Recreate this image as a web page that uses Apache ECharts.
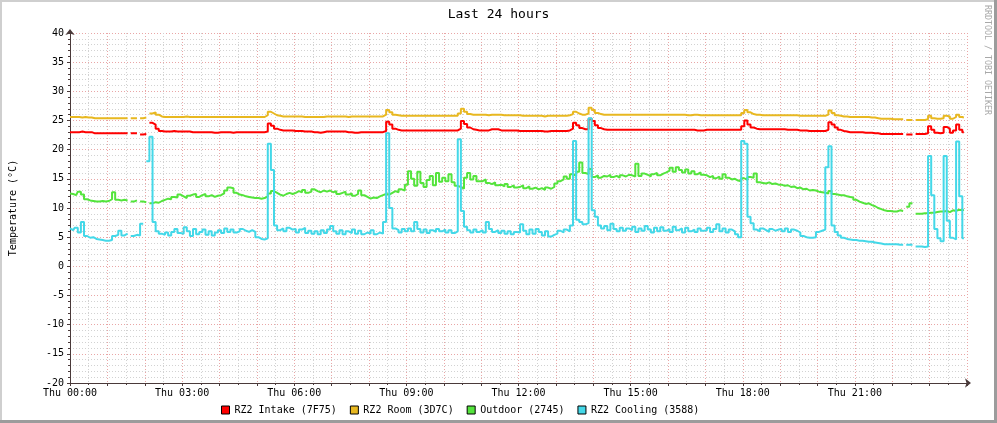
<!DOCTYPE html>
<html>
<head>
<meta charset="utf-8">
<script src="https://cdn.jsdelivr.net/npm/echarts@6/dist/echarts.min.js"></script>
<style>html,body{margin:0;padding:0;background:#fff;}#c{width:997px;height:423px;}</style>
</head>
<body>
<div id="c"></div>
<script>
// 5-minute samples, 12 per hour, Thu 00:00 .. 23:55
const seriesNames = ['RZ2 Intake (7F75)', 'RZ2 Room (3D7C)', 'Outdoor (2745)', 'RZ2 Cooling (3588)'];
const xLabels = ['Thu 00:00','Thu 03:00','Thu 06:00','Thu 09:00','Thu 12:00','Thu 15:00','Thu 18:00','Thu 21:00'];

const intake = [
23.0,23.0,23.0,23.0,23.1,23.0,23.0,23.0,22.8,22.8,22.8,22.8,
22.8,22.8,22.8,22.8,22.8,22.8,22.8,null,22.8,22.8,null,22.6,
22.7,null,24.6,24.3,23.6,23.2,23.1,23.1,23.1,23.2,23.1,23.1,
23.1,23.1,23.1,23.0,23.0,23.0,23.0,23.0,23.0,23.0,22.9,22.9,
23.0,23.0,23.0,23.0,22.9,23.0,23.0,23.0,23.0,23.0,23.0,23.0,
23.0,23.0,23.0,23.1,24.5,24.1,23.6,23.4,23.3,23.3,23.3,23.3,
23.2,23.2,23.2,23.1,23.1,23.1,23.0,23.0,22.9,23.0,23.1,23.1,
23.1,23.1,23.1,23.1,23.1,23.0,23.0,22.9,22.9,23.0,23.0,23.0,
23.0,23.0,23.0,23.0,23.0,23.2,24.8,24.3,23.6,23.4,23.3,23.3,
23.3,23.3,23.3,23.3,23.3,23.3,23.3,23.3,23.3,23.3,23.3,23.3,
23.3,23.3,23.3,23.3,23.3,23.6,24.9,24.4,23.8,23.5,23.4,23.3,
23.3,23.3,23.3,23.5,23.5,23.5,23.3,23.3,23.3,23.3,23.3,23.3,
23.2,23.2,23.2,23.2,23.2,23.2,23.2,23.2,23.1,23.1,23.2,23.2,
23.2,23.2,23.2,23.2,23.3,23.6,24.6,24.2,23.7,23.5,23.5,25.3,
24.9,24.2,23.7,23.5,23.4,23.4,23.4,23.4,23.4,23.4,23.4,23.4,
23.4,23.4,23.4,23.4,23.4,23.4,23.4,23.4,23.4,23.4,23.4,23.4,
23.4,23.4,23.4,23.4,23.4,23.4,23.4,23.4,23.4,23.3,23.3,23.3,
23.4,23.4,23.4,23.4,23.4,23.4,23.4,23.4,23.4,23.4,23.4,23.4,
24.0,25.0,24.3,23.8,23.6,23.5,23.5,23.5,23.5,23.5,23.5,23.5,
23.5,23.5,23.4,23.4,23.4,23.4,23.3,23.3,23.3,23.2,23.2,23.2,
23.2,23.2,23.2,23.4,24.7,24.3,23.8,23.4,23.2,23.1,23.0,23.0,
23.0,23.0,23.0,22.9,22.9,22.9,22.8,22.8,22.7,22.7,22.7,22.7,
22.7,22.7,22.7,22.7,null,22.6,22.6,null,22.7,22.7,22.7,22.8,
24.0,23.4,22.9,22.8,22.9,23.9,23.6,22.9,23.3,24.3,23.4,23.0
];

const room = [
25.6,25.6,25.6,25.6,25.5,25.6,25.5,25.5,25.4,25.4,25.4,25.4,
25.4,25.4,25.4,25.4,25.4,25.4,25.4,null,25.4,25.4,null,25.4,
25.5,null,26.2,26.4,26.0,25.7,25.6,25.6,25.6,25.6,25.6,25.6,
25.6,25.7,25.6,25.6,25.6,25.6,25.6,25.6,25.6,25.6,25.6,25.6,
25.6,25.6,25.6,25.6,25.6,25.6,25.6,25.6,25.6,25.6,25.6,25.6,
25.6,25.6,25.6,25.9,26.5,26.2,25.9,25.8,25.7,25.7,25.7,25.7,
25.7,25.7,25.7,25.6,25.6,25.6,25.6,25.6,25.6,25.6,25.7,25.7,
25.7,25.7,25.7,25.7,25.7,25.6,25.7,25.7,25.7,25.7,25.7,25.7,
25.7,25.7,25.7,25.7,25.7,26.0,26.8,26.4,26.0,25.9,25.8,25.8,
25.8,25.8,25.8,25.8,25.8,25.8,25.8,25.8,25.8,25.8,25.8,25.8,
25.8,25.8,25.8,25.8,25.8,26.2,27.0,26.5,26.1,26.0,26.0,26.0,
26.0,26.0,25.9,26.0,26.0,26.0,26.0,25.9,25.9,25.9,25.9,25.9,
25.9,25.8,25.8,25.8,25.8,25.8,25.8,25.8,25.7,25.8,25.8,25.8,
25.8,25.8,25.8,25.8,25.9,26.1,26.5,26.2,26.0,26.0,26.2,27.2,
26.8,26.3,26.1,26.0,26.0,26.0,26.0,26.0,26.0,26.0,26.0,26.0,
26.0,26.0,26.0,26.0,26.0,26.0,26.0,26.0,26.0,26.0,26.0,26.0,
26.0,26.0,26.0,26.0,26.0,26.0,25.9,25.9,26.0,26.0,25.9,25.9,
25.9,25.9,25.9,25.9,25.9,25.9,25.9,25.9,25.9,25.9,25.9,25.9,
26.3,26.8,26.4,26.1,26.0,26.0,25.9,25.9,25.9,25.9,25.9,25.9,
25.9,25.9,25.9,25.9,25.9,25.9,25.8,25.8,25.8,25.8,25.8,25.8,
25.8,25.8,25.8,26.0,26.7,26.3,25.9,25.8,25.7,25.7,25.6,25.6,
25.6,25.6,25.6,25.6,25.6,25.5,25.5,25.4,25.3,25.3,25.3,25.3,
25.2,25.2,25.2,25.2,null,25.1,25.1,null,25.1,25.1,25.1,25.2,
25.8,25.4,25.3,25.3,25.4,25.8,25.7,25.3,25.6,26.0,25.6,25.5
];

const outdoor = [
12.5,12.4,12.2,12.8,12.3,11.5,11.3,11.2,11.1,11.1,11.2,11.1,
11.2,11.5,12.7,11.4,11.3,11.4,11.3,null,11.1,11.3,null,11.1,
11.0,null,10.8,11.0,10.9,11.2,11.4,11.6,11.5,11.9,11.8,12.3,
12.0,11.7,12.1,12.3,12.4,11.9,12.2,12.4,12.0,12.2,11.9,12.1,
12.2,12.5,13.0,13.5,13.4,12.6,12.3,12.2,12.0,11.9,11.8,11.7,
11.7,11.6,11.7,12.0,12.5,12.9,12.6,12.3,12.1,12.4,12.6,12.4,
12.6,12.9,12.7,13.1,12.6,12.8,13.2,12.9,12.7,13.0,12.8,13.0,
12.7,12.9,12.4,12.6,12.8,12.3,12.5,12.1,12.4,13.0,12.2,11.9,
11.6,11.8,11.7,12.0,12.2,12.4,12.3,12.6,12.9,12.7,13.2,13.0,
14.0,16.3,15.0,13.8,16.2,14.3,13.6,14.8,15.5,13.9,16.0,14.5,
15.2,14.6,15.8,14.4,13.8,13.6,13.3,15.2,16.0,14.9,15.5,14.6,
14.6,14.9,14.3,14.1,14.4,13.9,14.0,13.7,14.1,13.6,13.9,13.5,
13.6,13.9,13.4,13.7,13.3,13.5,13.2,13.4,13.1,13.5,13.3,13.6,
14.2,14.6,14.9,15.4,15.0,15.8,15.5,16.2,17.8,16.0,15.8,16.7,
15.3,15.6,15.2,15.5,15.4,15.7,15.3,15.5,15.2,15.6,15.4,15.7,
15.6,15.4,17.6,15.5,15.9,15.7,15.4,15.8,16.0,15.6,15.9,16.1,
16.4,16.9,16.2,17.0,16.5,16.1,16.6,15.9,16.3,15.8,16.1,15.7,
15.6,15.3,15.5,15.1,15.4,15.0,15.8,15.2,14.9,15.0,14.7,14.6,
15.1,14.8,15.3,15.2,15.9,14.4,14.3,14.2,14.4,14.1,14.2,14.0,
14.0,13.8,13.9,13.6,13.7,13.4,13.5,13.2,13.3,13.0,13.1,13.0,
12.8,12.7,12.6,12.5,12.9,12.4,12.3,12.2,12.2,12.0,11.9,11.8,
11.4,11.1,10.9,10.7,10.8,10.5,10.3,10.0,9.8,9.6,9.5,9.5,
9.4,9.4,9.6,9.5,null,10.2,10.8,null,9.0,9.0,9.1,9.1,
9.2,9.2,9.3,9.4,9.4,9.5,9.3,9.6,9.5,9.7,9.6,9.7
];

const cooling = [
6.5,6.2,6.6,5.8,7.6,5.2,4.9,5.0,4.7,4.6,4.5,4.4,
4.4,4.5,5.2,5.4,6.1,5.3,5.6,null,5.2,5.4,5.3,7.3,
null,18.0,22.2,7.6,6.0,5.6,5.4,5.8,5.3,5.9,6.4,5.7,
5.6,6.7,6.0,5.2,6.4,5.5,5.9,6.3,5.4,6.0,5.3,5.8,
6.2,5.7,6.5,5.9,6.3,5.8,6.0,6.4,6.1,5.9,6.2,5.9,
5.0,4.7,4.6,4.8,21.0,16.5,7.0,6.2,6.5,6.0,6.6,6.3,
6.4,5.8,6.3,6.6,5.7,6.1,5.6,6.0,5.5,6.2,5.7,6.3,
6.9,6.0,5.6,6.2,5.5,6.0,5.7,6.3,5.6,6.1,5.5,5.8,
5.6,6.2,5.5,5.8,5.6,7.6,22.8,10.0,6.5,6.2,5.8,6.4,
6.0,6.5,6.0,7.6,6.4,5.8,6.3,5.7,6.2,5.9,6.4,6.0,
6.3,5.8,6.2,5.7,6.0,21.8,9.5,6.8,6.2,5.8,6.3,5.9,
6.2,5.8,7.6,6.4,5.9,6.2,5.7,6.1,5.6,6.0,5.5,5.9,
5.8,7.2,6.1,5.5,6.3,5.6,6.4,5.9,5.3,6.0,5.1,5.4,
5.6,6.1,5.8,6.3,6.0,7.0,21.5,8.0,7.6,7.2,7.4,25.4,
9.6,8.5,7.0,6.5,6.9,6.2,7.3,6.4,6.0,6.6,6.1,6.5,
6.2,6.8,5.9,6.5,6.1,6.9,6.3,5.8,6.6,6.0,6.7,6.1,
6.4,5.9,6.8,6.2,6.5,5.8,6.6,6.0,6.3,5.9,6.5,6.1,
6.2,6.6,5.9,6.4,7.2,6.0,6.5,5.8,6.3,6.0,5.5,5.0,
21.5,21.0,8.5,7.4,6.3,6.0,6.5,6.2,5.9,6.4,6.1,6.3,
6.4,6.0,6.5,5.9,6.3,6.1,5.8,5.2,5.0,4.9,4.9,5.0,
5.9,6.1,6.3,17.0,20.6,7.0,5.9,5.3,4.9,4.7,4.6,4.5,
4.5,4.4,4.4,4.3,4.2,4.2,4.1,4.0,3.9,3.8,3.8,3.8,
3.8,3.8,3.7,3.7,null,3.7,3.7,null,3.4,3.4,3.3,3.4,
18.9,12.2,6.4,4.8,4.3,18.9,7.8,4.9,4.6,21.4,12.0,4.8
];

const colors = ['#FF0000', '#E8B820', '#54E43C', '#44D8E8'];
const MONO = '"DejaVu Sans Mono", monospace';
const STEP_MIN = 5;

function toPairs(arr) {
  return arr.map((v, i) => [i * STEP_MIN / 60, v === null ? '-' : v]);
}

const chart = echarts.init(document.getElementById('c'), null, {renderer: 'canvas'});
const values = [intake, room, outdoor, cooling];

const gridMajor = {show: true, lineStyle: {color: '#E9A6A6', width: 1, type: [1, 2]}};
const gridMinor = {show: true, lineStyle: {color: '#D2D2D2', width: 1, type: [1, 2]}};
const axisCol = '#4A3A3A';

chart.setOption({
  animation: false,
  backgroundColor: '#ffffff',
  title: {
    text: 'Last 24 hours', left: 'center', top: 3,
    textStyle: {fontFamily: MONO, fontSize: 13, fontWeight: 'normal', color: '#000'}
  },
  legend: {
    data: seriesNames, left: 216, top: 400, icon: 'rect',
    itemWidth: 8, itemHeight: 8, itemGap: 13,
    itemStyle: {borderColor: '#000', borderWidth: 1},
    textStyle: {fontFamily: MONO, fontSize: 10, color: '#000'}
  },
  grid: {left: 67, right: 30, top: 33, bottom: 40, containLabel: false},
  xAxis: {
    type: 'value', min: 0, max: 24, interval: 1,
    axisLine: {show: true, onZero: false, lineStyle: {color: axisCol, width: 1}, symbol: ['none', 'arrow'], symbolSize: [7, 6], symbolOffset: [0, 4]},
    axisTick: {show: true, length: 3, lineStyle: {color: axisCol}},
    minorTick: {show: true, splitNumber: 2, length: 2, lineStyle: {color: axisCol}},
    axisLabel: {
      fontFamily: MONO, fontSize: 10, color: '#000', margin: 5, showMaxLabel: false,
      formatter: function (v) { return (v % 3 === 0 && v < 24) ? xLabels[v / 3] : ''; }
    },
    splitLine: gridMajor,
    minorSplitLine: gridMinor
  },
  yAxis: {
    type: 'value', min: -20, max: 40, interval: 5,
    name: 'Temperature (°C)', nameLocation: 'middle', nameGap: 52,
    nameTextStyle: {fontFamily: MONO, fontSize: 10, color: '#000'},
    axisLine: {show: true, onZero: false, lineStyle: {color: axisCol, width: 1}, symbol: ['none', 'arrow'], symbolSize: [7, 6], symbolOffset: [0, 4]},
    axisTick: {show: true, length: 3, lineStyle: {color: axisCol}},
    minorTick: {show: true, splitNumber: 5, length: 2, lineStyle: {color: axisCol}},
    axisLabel: {fontFamily: MONO, fontSize: 10, color: '#000', margin: 6},
    splitLine: gridMajor,
    minorSplitLine: gridMinor
  },
  graphic: [
    {type: 'rect', shape: {x: 0, y: 0, width: 997, height: 2}, style: {fill: '#CFCFCF'}, silent: true},
    {type: 'rect', shape: {x: 0, y: 0, width: 2, height: 423}, style: {fill: '#CFCFCF'}, silent: true},
    {type: 'rect', shape: {x: 0, y: 420, width: 997, height: 3}, style: {fill: '#9C9C9C'}, silent: true},
    {type: 'rect', shape: {x: 994, y: 0, width: 3, height: 423}, style: {fill: '#9C9C9C'}, silent: true},
    {type: 'text', x: 987, y: 5, rotation: -Math.PI / 2, silent: true,
      style: {text: 'RRDTOOL / TOBI OETIKER', fontFamily: MONO, fontSize: 8.3, fill: '#A8A8A8', align: 'left', verticalAlign: 'middle'}}
  ],
  series: values.map((arr, k) => ({
    name: seriesNames[k],
    type: 'line',
    data: toPairs(arr),
    step: 'middle',
    showSymbol: false,
    symbol: 'none',
    connectNulls: false,
    lineStyle: {color: colors[k], width: 2},
    itemStyle: {color: colors[k]},
    z: 3 + k
  }))
});
</script>
</body>
</html>
